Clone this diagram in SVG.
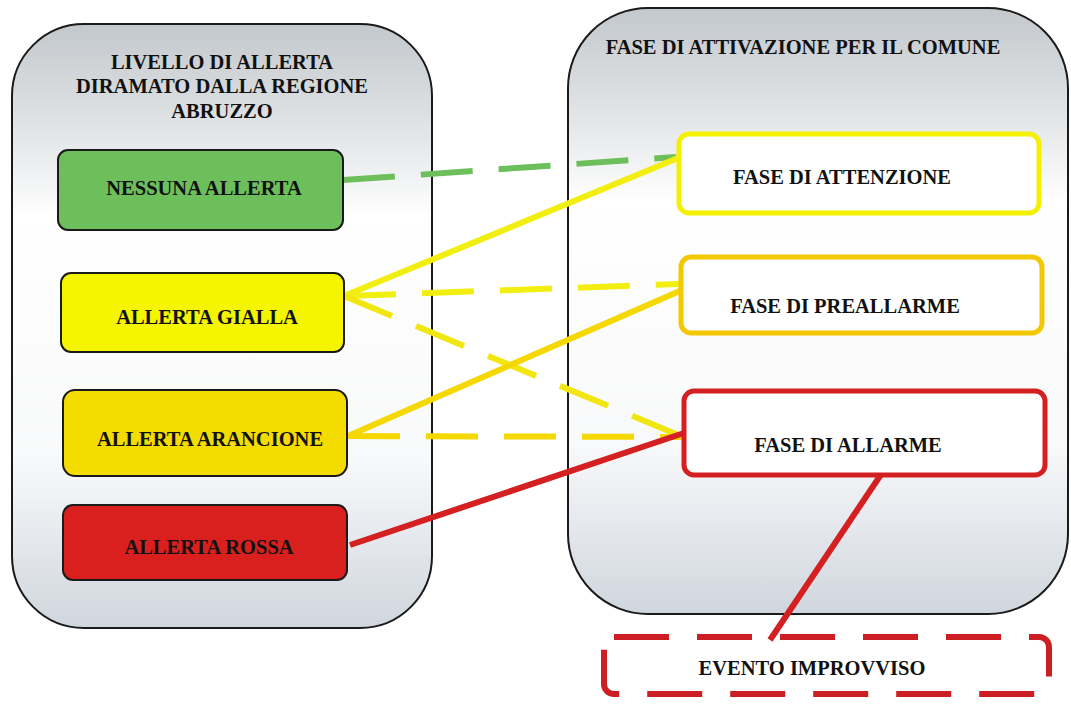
<svg xmlns="http://www.w3.org/2000/svg" width="1071" height="704" viewBox="0 0 1071 704">
<defs>
<linearGradient id="panelGrad" x1="0" y1="0" x2="0" y2="1">
<stop offset="0" stop-color="#c3c8cc"/>
<stop offset="0.2" stop-color="#e6e8ea"/>
<stop offset="0.32" stop-color="#ffffff"/>
<stop offset="0.72" stop-color="#f8f9fa"/>
<stop offset="1" stop-color="#d0d6de"/>
</linearGradient>
<style>
.panel{fill:url(#panelGrad);stroke:#1a1a1a;stroke-width:2}
.alert{stroke:#1a1a1a;stroke-width:2}
.phase{fill:#ffffff;stroke-width:5}
.t{font-family:"Liberation Serif","Times New Roman",serif;font-weight:bold;font-size:20.5px;fill:#111;text-anchor:middle}
.c{fill:none;stroke-width:6;stroke-linecap:butt}
.dash{stroke-dasharray:52 26}
</style>
</defs>
<g id="panel-left">
<rect class="panel" x="12" y="24" width="420" height="604" rx="72" ry="72"/>
<text class="t" x="222" y="69">LIVELLO DI ALLERTA</text>
<text class="t" x="222" y="93">DIRAMATO DALLA REGIONE</text>
<text class="t" x="222" y="118">ABRUZZO</text>
</g>
<g id="panel-right">
<rect class="panel" x="568" y="8" width="500" height="606" rx="80" ry="80"/>
<text class="t" x="803" y="54">FASE DI ATTIVAZIONE PER IL COMUNE</text>
</g>
<g id="connectors">
<line class="c dash" x1="343" y1="180" x2="676" y2="157" stroke="#6dbf5c"/>
<line class="c" x1="344" y1="296" x2="678" y2="158" stroke="#f2ef10"/>
<line class="c dash" x1="344" y1="296" x2="680" y2="284" stroke="#f2ef10"/>
<line class="c dash" x1="344" y1="296" x2="683" y2="437" stroke="#f2e610"/>
<line class="c" x1="348" y1="436" x2="682" y2="290" stroke="#f4d800"/>
<line class="c dash" x1="348" y1="436" x2="683" y2="437" stroke="#f4d800"/>
<line class="c" x1="350" y1="545" x2="684" y2="433" stroke="#d42020"/>
<line class="c" x1="882" y1="473" x2="770" y2="640" stroke="#d42020"/>
</g>
<g id="node-nessuna">
<rect class="alert" x="58" y="150" width="285" height="80" rx="10" fill="#6dbf5c"/>
<text class="t" x="204" y="195">NESSUNA ALLERTA</text>
</g>
<g id="node-gialla">
<rect class="alert" x="61" y="273" width="283" height="79" rx="10" fill="#f5f500"/>
<text class="t" x="207" y="324">ALLERTA GIALLA</text>
</g>
<g id="node-arancione">
<rect class="alert" x="63" y="390" width="284" height="86" rx="12" fill="#f5dc00"/>
<text class="t" x="210" y="446">ALLERTA ARANCIONE</text>
</g>
<g id="node-rossa">
<rect class="alert" x="63" y="505" width="284" height="75" rx="10" fill="#d9201e"/>
<text class="t" x="209" y="554">ALLERTA ROSSA</text>
</g>
<g id="node-attenzione">
<rect class="phase" x="679" y="134" width="360" height="79" rx="10" stroke="#f5f000"/>
<text class="t" x="842" y="184">FASE DI ATTENZIONE</text>
</g>
<g id="node-preallarme">
<rect class="phase" x="681" y="257" width="361" height="76" rx="10" stroke="#f3c800"/>
<text class="t" x="845" y="313">FASE DI PREALLARME</text>
</g>
<g id="node-allarme">
<rect class="phase" x="684" y="391" width="361" height="84" rx="10" stroke="#d42020"/>
<text class="t" x="848" y="452">FASE DI ALLARME</text>
</g>
<g id="node-evento">
<rect x="604" y="637" width="445" height="57" rx="10" fill="none" stroke="#cc1f24" stroke-width="6" stroke-dasharray="55 28"/>
<text class="t" x="812" y="675">EVENTO IMPROVVISO</text>
</g>
</svg>
